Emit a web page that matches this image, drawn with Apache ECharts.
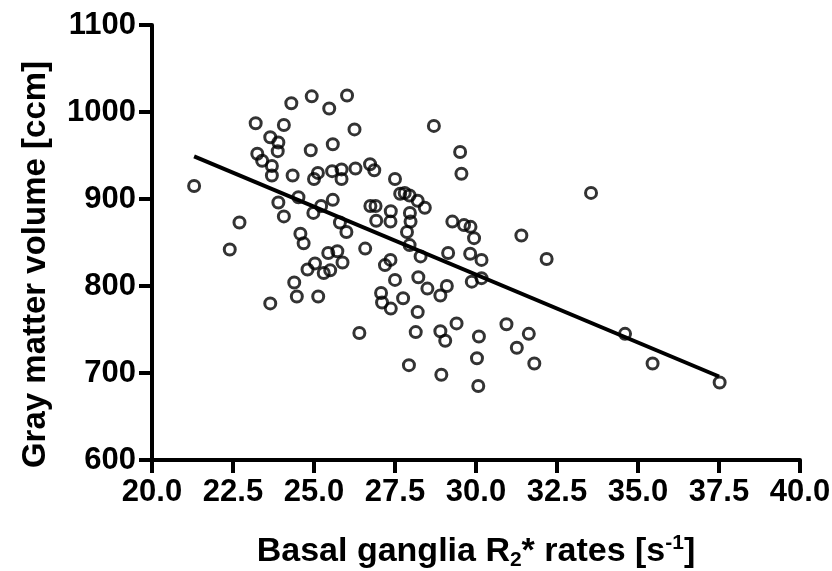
<!DOCTYPE html>
<html>
<head>
<meta charset="utf-8">
<script src="https://cdn.jsdelivr.net/npm/echarts@6/dist/echarts.min.js"></script>
<style>
  html, body { margin: 0; padding: 0; background: #fff; }
  #chart { width: 832px; height: 571px; }
</style>
</head>
<body>
<div id="chart"></div>
<script>
// basal ganglia R2* rate (s^-1) for each subject
const r2Rates = [
  21.3, 22.4, 22.7, 23.2, 23.25, 23.4, 23.65, 23.7, 23.7, 23.9,
  23.88, 23.9, 23.65, 24.07, 24.07, 24.3, 24.34, 24.52, 24.58, 24.68,
  24.39, 24.47, 24.8, 24.93, 24.9, 25.0, 25.12, 24.98, 25.22, 25.03,
  25.3, 25.13, 25.47, 25.58, 25.58, 25.56, 25.5, 25.44, 25.72, 25.88,
  25.8, 25.85, 25.85, 26.02, 26.0, 26.25, 26.28, 26.4, 26.58, 26.73,
  26.86, 26.74, 26.9, 26.92, 27.07, 27.1, 27.37, 27.19, 27.36, 27.37,
  27.36, 27.5, 27.5, 27.75, 27.66, 27.8, 27.95, 28.2, 28.42, 27.96,
  27.98, 27.87, 27.95, 28.29, 28.22, 28.5, 28.2, 28.14, 27.93, 28.7,
  29.14, 29.27, 28.9, 29.1, 28.9, 29.05, 29.4, 28.93, 29.51, 29.55,
  29.63, 29.83, 29.94, 29.82, 29.87, 30.17, 30.17, 30.09, 30.03, 30.07,
  30.94, 31.26, 31.4, 31.63, 31.8, 32.18, 33.55, 34.6, 35.45, 37.52
];
// gray matter volume (ccm), same order
const grayVolume = [
  915, 842, 873, 987, 952, 944, 971, 938, 927, 965,
  955, 896, 780, 880, 985, 1010, 927, 902, 860, 849,
  804, 788, 819, 1018, 956, 923, 930, 884, 892, 826,
  815, 788, 1004, 963, 899, 932, 818, 838, 840, 827,
  873, 934, 923, 1019, 862, 980, 935, 746, 843, 940,
  933, 892, 892, 875, 792, 781, 774, 824, 830, 886,
  874, 923, 807, 786, 906, 907, 904, 898, 890, 884,
  874, 862, 847, 834, 810, 797, 770, 747, 709, 984,
  838, 874, 789, 800, 748, 737, 757, 698, 954, 929,
  870, 868, 855, 837, 805, 830, 809, 742, 717, 685,
  756, 729, 858, 745, 711, 831, 907, 745, 711, 689
];
// regression line end points
const fitX = [21.3, 37.5];
const fitY = [949, 696];

const font = "'Liberation Sans', Arial, sans-serif";
const ink = '#000';

const points = r2Rates.map((x, i) => [x, grayVolume[i]]);
const fitLine = fitX.map((x, i) => [x, fitY[i]]);

const chart = echarts.init(document.getElementById('chart'));

chart.setOption({
  animation: false,
  backgroundColor: '#fff',
  grid: { left: 152, right: 32, top: 25, bottom: 111, outerBoundsMode: 'none', containLabel: false },
  xAxis: {
    type: 'value',
    min: 20, max: 40, interval: 2.5,
    splitLine: { show: false },
    axisLine: { lineStyle: { color: ink, width: 4 } },
    axisTick: { length: 13, lineStyle: { color: ink, width: 4 } },
    axisLabel: {
      color: ink, fontFamily: font, fontWeight: 'bold', fontSize: 31, margin: 17,
      formatter: v => v.toFixed(1)
    },
    name: '{t|Basal ganglia R}{sub|2}{t|* rates [s}{sup|-1}{t|]}',
    nameLocation: 'middle',
    nameGap: 73,
    nameTextStyle: {
      rich: {
        t: { fontFamily: font, fontWeight: 'bold', fontSize: 34, color: ink },
        sub: { fontFamily: font, fontWeight: 'bold', fontSize: 21, color: ink, padding: [17, 0, 0, 0] },
        sup: { fontFamily: font, fontWeight: 'bold', fontSize: 21, color: ink, padding: [0, 0, 17, 0] }
      }
    }
  },
  yAxis: {
    type: 'value',
    min: 600, max: 1100, interval: 100,
    splitLine: { show: false },
    axisLine: { lineStyle: { color: ink, width: 4 } },
    axisTick: { length: 13, lineStyle: { color: ink, width: 4 } },
    axisLabel: {
      color: ink, fontFamily: font, fontWeight: 'bold', fontSize: 31, margin: 16,
      formatter: v => String(v)
    },
    name: 'Gray matter volume [ccm]',
    nameLocation: 'middle',
    nameGap: 100,
    nameTextStyle: {
      fontFamily: font, fontWeight: 'bold', fontSize: 33, color: ink,
      padding: [0, 44, 0, 0]
    }
  },
  series: [
    {
      type: 'line',
      data: fitLine,
      symbol: 'none',
      lineStyle: { color: ink, width: 4 },
      z: 2
    },
    {
      type: 'scatter',
      data: points,
      symbol: 'circle',
      symbolSize: 11,
      itemStyle: { color: 'rgba(0,0,0,0)', borderColor: ink, borderWidth: 3 },
      z: 3
    }
  ]
});
</script>
</body>
</html>
